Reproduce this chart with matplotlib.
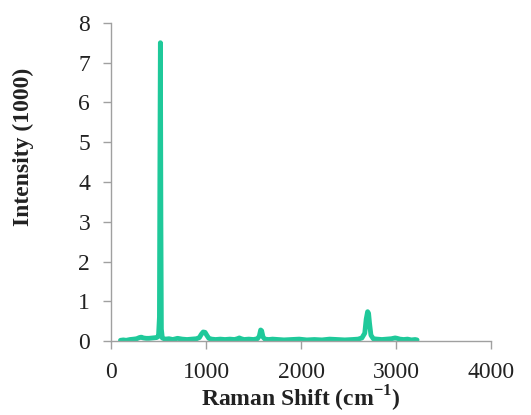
import matplotlib
matplotlib.use('Agg')
import matplotlib.pyplot as plt
import numpy as np

# Raman spectrum (shift in cm-1, intensity in 1000 counts)
shift = [100, 130, 160, 200, 240, 270, 300, 320, 340, 370, 400, 440, 480, 500,
         510, 515, 520, 525, 530, 540, 570, 610, 650, 700, 750, 800, 850, 900,
         930, 950, 970, 990, 1010, 1030, 1060, 1100, 1150, 1200, 1250, 1300,
         1330, 1350, 1370, 1400, 1450, 1500, 1540, 1560, 1575, 1585, 1600, 1620,
         1660, 1700, 1760, 1820, 1900, 1980, 2060, 2140, 2220, 2300, 2380, 2460,
         2540, 2600, 2640, 2670, 2685, 2700, 2710, 2720, 2735, 2760, 2800, 2850,
         2900, 2950, 2990, 3010, 3040, 3080, 3120, 3160, 3200, 3220]
intensity = [0.02, 0.03, 0.02, 0.04, 0.05, 0.06, 0.09, 0.10, 0.08, 0.07, 0.07,
             0.08, 0.09, 0.12, 0.60, 4.50, 7.50, 3.00, 0.30, 0.08, 0.05, 0.06,
             0.04, 0.07, 0.05, 0.04, 0.05, 0.06, 0.09, 0.17, 0.23, 0.22, 0.14,
             0.07, 0.05, 0.04, 0.05, 0.04, 0.05, 0.04, 0.06, 0.08, 0.06, 0.04,
             0.05, 0.04, 0.06, 0.12, 0.28, 0.26, 0.10, 0.05, 0.04, 0.05, 0.04,
             0.03, 0.04, 0.05, 0.03, 0.04, 0.03, 0.05, 0.04, 0.03, 0.04, 0.05,
             0.08, 0.20, 0.55, 0.74, 0.70, 0.45, 0.15, 0.06, 0.05, 0.04, 0.05,
             0.06, 0.08, 0.07, 0.05, 0.04, 0.05, 0.03, 0.04, 0.03]

x_ticks = [0, 1000, 2000, 3000, 4000]
y_ticks = [0, 1, 2, 3, 4, 5, 6, 7, 8]

plt.rcParams['font.family'] = ['Liberation Serif', 'DejaVu Serif']
plt.rcParams['mathtext.fontset'] = 'custom'
plt.rcParams['mathtext.rm'] = 'Liberation Serif'
plt.rcParams['mathtext.bf'] = 'Liberation Serif:bold'

fig = plt.figure(figsize=(5.31, 4.15), dpi=100)
ax = fig.add_axes([0.209, 0.178, 0.716, 0.767])

ax.plot(shift, intensity, color='#1fc99a', linewidth=3.5, solid_joinstyle='round',
        solid_capstyle='round')

ax.set_xlim(0, 4000)
ax.set_ylim(0, 8)
ax.set_xticks(x_ticks)
ax.set_yticks(y_ticks)
ax.tick_params(labelsize=17, length=6, width=1, colors='#a0a0a0',
               labelcolor='#222222', pad=9)
for s in ['top', 'right']:
    ax.spines[s].set_visible(False)
for s in ['left', 'bottom']:
    ax.spines[s].set_color('#a0a0a0')
    ax.spines[s].set_linewidth(1)

fig.text(0.567, 0.04, 'Raman Shift (cm$^{\\mathbf{-1}}$)', ha='center', va='center',
         fontsize=17, fontweight='bold', color='#222222')
fig.text(0.045, 0.646, 'Intensity (1000)', ha='center', va='center', rotation=90,
         fontsize=17, fontweight='bold', color='#222222')

fig.savefig('out.png', dpi=100)
